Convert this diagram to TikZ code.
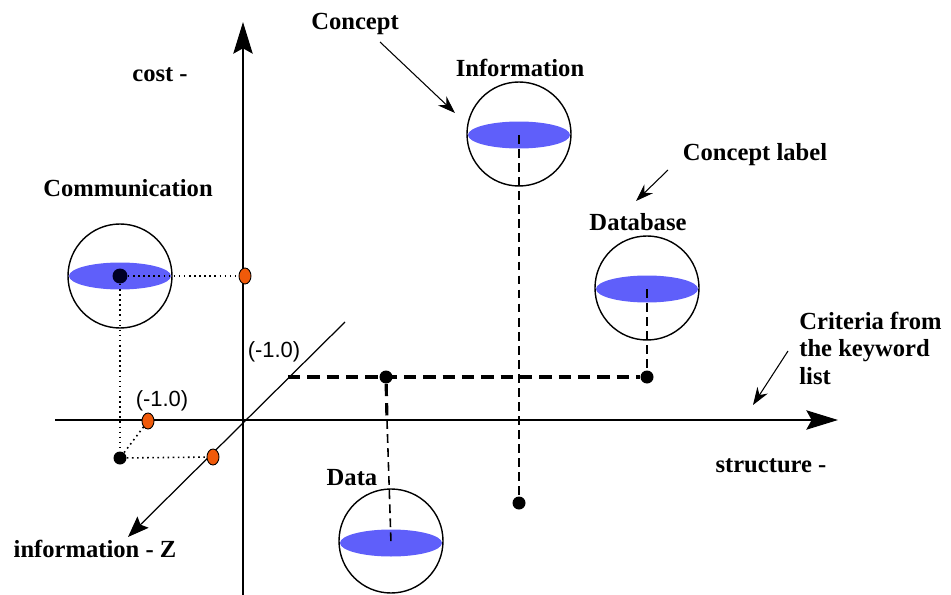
\documentclass[tikz,border=0pt]{standalone}
\usepackage{fontspec}
\setmainfont{Liberation Serif}
\newfontfamily\lsans{Liberation Sans}
\usetikzlibrary{arrows.meta,shapes.geometric}
\definecolor{eblue}{RGB}{95,95,250}
\definecolor{dorange}{RGB}{240,90,10}
\begin{document}
\begin{tikzpicture}[x=0.02cm,y=-0.02cm,
  lbl/.style={font=\fontsize{14}{16}\selectfont\bfseries, inner sep=0pt},
  coord/.style={font=\lsans\fontsize{12.5}{14}\selectfont, inner sep=0pt},
  sphere/.style={circle, draw, minimum size=104*0.02cm, inner sep=0pt, line width=0.8pt},
  disc/.style={ellipse, fill=eblue, minimum width=102*0.02cm, minimum height=27*0.02cm, inner sep=0pt},
  bdot/.style={circle, fill=black, minimum size=13*0.02cm, inner sep=0pt},
  odot/.style={ellipse, draw, fill=dorange, minimum width=12*0.02cm, minimum height=16*0.02cm, inner sep=0pt, line width=0.5pt},
  axis/.style={line width=1pt, -{Stealth[length=18pt,width=11pt,inset=3pt]}},
  thinarrow/.style={line width=0.6pt, -{Stealth[length=10pt,width=7pt]}},
  tdash/.style={line width=1.8pt, dash pattern=on 7pt off 4pt},
  mdash/.style={line width=0.9pt, dash pattern=on 5pt off 3pt},
  tdot/.style={line width=0.9pt, dotted}]
\useasboundingbox (0,0) rectangle (951,595);
% axes
\coordinate (yb) at (243,595);
\coordinate (yt) at (243,22);
\coordinate (xl) at (55,420);
\coordinate (xr) at (838,420);
\coordinate (zt) at (345,322);
\coordinate (zb) at (128,537);
\draw[axis] (yb) -- (yt);
\draw[axis] (xl) -- (xr);
\draw[line width=0.7pt, -{Stealth[length=12pt,width=9pt,inset=2pt]}] (zt) -- (zb);
% spheres
\node[disc] (comd) at (120,276) {};
\node[sphere] (com) at (120,276) {};
\node[disc] (infd) at (519,135) {};
\node[sphere] (inf) at (519,134) {};
\node[disc] (dbd) at (647,289) {};
\node[sphere] (db) at (647,288) {};
\node[disc] (datd) at (391,543) {};
\node[sphere] (dat) at (391,541) {};
% points
\node[bdot, fill=black!85!blue, minimum size=15*0.02cm] (pc) at (120,276) {};
\node[odot] (oc) at (245,276) {};
\node[bdot] (pz) at (120,458) {};
\node[odot] (ox) at (148,421) {};
\node[odot] (oz) at (213,457) {};
\coordinate (zq) at (288,377);
\node[bdot] (pa) at (386,377) {};
\node[bdot] (pdb) at (647,377) {};
\node[bdot] (pi) at (519,503) {};
% dotted projections
\draw[tdot] (pc) -- (oc);
\draw[tdot] (pc) -- (pz);
\draw[tdot] (pz) -- (ox);
\draw[tdot] (pz) -- (oz);
% dashed lines
\draw[tdash] (zq) -- (pdb);
\draw[tdash] (pa) -- (387,420);
\draw[mdash] (387,420) -- (datd.center);
\draw[mdash] (infd.center) -- (pi);
\draw[mdash] (dbd.center) -- (pdb);
% labels
\node[lbl] (cost) at (160,75) {cost -};
\node[lbl] (struct) at (771,466) {structure -};
\node[lbl] (infz) at (95,549) {information - Z};
\node[lbl] (concept) at (355,24) {Concept};
\node[lbl] (infl) at (520,68) {Information};
\node[lbl] (cl) at (755,155) {Concept label};
\node[lbl] (dbl) at (638,222) {Database};
\node[lbl] (coml) at (128,188) {Communication};
\node[lbl] (datl) at (352,478) {Data};
\node[lbl, align=left, anchor=north west, font=\fontsize{14}{15.5}\selectfont\bfseries] (crit) at (799,312) {Criteria from\\the keyword\\list};
\node[coord] (m1) at (162,401) {(-1.0)};
\node[coord] (m2) at (274,352) {(-1.0)};
% pointer arrows
\draw[thinarrow] (380,42) -- (455,113);
\draw[thinarrow] (668,170) -- (636,201);
\draw[thinarrow] (788,351) -- (753,405);
\end{tikzpicture}
\end{document}
